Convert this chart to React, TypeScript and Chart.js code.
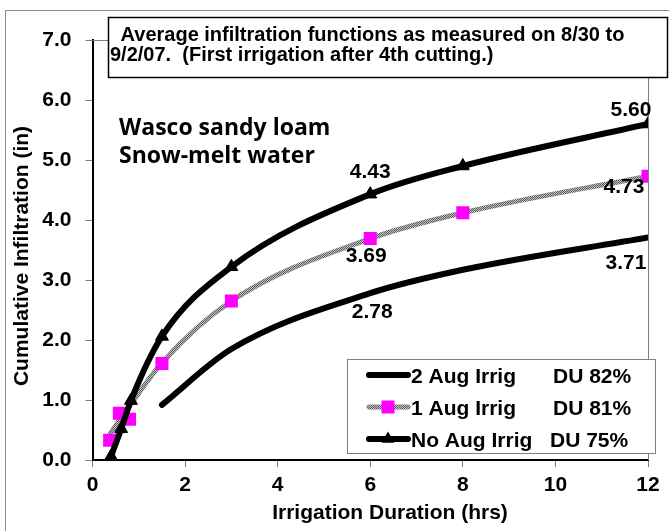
import React, { useEffect, useRef } from 'react';
import { Chart, registerables } from 'chart.js';
Chart.register(...registerables);

// ---- data ----
const xNoAug = [0.4, 0.62, 0.83, 1.5, 3, 6, 8, 12];
const yNoAug = [0.06, 0.52, 0.99, 2.06, 3.22, 4.43, 4.9, 5.6];
const x1AugPoints = [0.37, 0.58, 0.8, 1.5, 3, 6, 8, 12];
const y1AugPoints = [0.33, 0.78, 0.68, 1.61, 2.65, 3.69, 4.12, 4.73];
const x1AugLine = [0.37, 0.58, 0.8, 1.5, 3, 6, 8, 12];
const y1AugLine = [0.42, 0.66, 0.9, 1.62, 2.65, 3.69, 4.12, 4.73];
const x2Aug = [1.5, 3, 6, 8, 12];
const y2Aug = [0.92, 1.85, 2.78, 3.17, 3.71];
const xTickValues = [0, 2, 4, 6, 8, 10, 12];
const yTickValues = [0, 1, 2, 3, 4, 5, 6, 7];
const legendNames = ['2 Aug Irrig', '1 Aug Irrig', 'No Aug Irrig'];
const legendDU = ['DU 82%', 'DU 81%', 'DU 75%'];
const titleLines = [' Average infiltration functions as measured on 8/30 to', '9/2/07.  (First irrigation after 4th cutting.)'];
const noteLines = ['Wasco sandy loam', 'Snow-melt water'];
const xTitle = 'Irrigation Duration (hrs)';
const yTitle = 'Cumulative Infiltration (in)';

const FAM = "'Liberation Sans', Arial, sans-serif";

function pts(xs: number[], ys: number[]) {
  return xs.map((x, i) => ({ x, y: ys[i] }));
}

export default function App() {
  const ref = useRef<HTMLCanvasElement | null>(null);
  useEffect(() => {
    const canvas = ref.current!;
    const pc = document.createElement('canvas');
    pc.width = 2; pc.height = 2;
    const pctx = pc.getContext('2d')!;
    pctx.fillStyle = '#c4c4c4'; pctx.fillRect(0, 0, 2, 2);
    pctx.fillStyle = '#5a5a5a'; pctx.fillRect(0, 0, 1, 1); pctx.fillRect(1, 1, 1, 1);
    const grayPattern = canvas.getContext('2d')!.createPattern(pc, 'repeat')!;

    const overlay = {
      id: 'overlay',
      beforeDatasetsDraw(chart: any) {
        const { ctx, chartArea: a } = chart;
        ctx.save();
        ctx.strokeStyle = '#808080';
        ctx.lineWidth = 1;
        ctx.beginPath();
        ctx.moveTo(a.left, Math.round(a.top) + 0.5);
        ctx.lineTo(Math.round(a.right) + 0.5, Math.round(a.top) + 0.5);
        ctx.lineTo(Math.round(a.right) + 0.5, a.bottom);
        ctx.stroke();
        ctx.restore();
      },
      afterDraw(chart: any) {
        const { ctx } = chart;
        ctx.save();
        // value labels
        ctx.fillStyle = '#000';
        ctx.font = `bold 21px ${FAM}`;
        ctx.textAlign = 'center';
        ctx.textBaseline = 'middle';
        const lab = (ds: number, idx: number, val: number, dx: number, dy: number) => {
          const el = chart.getDatasetMeta(ds).data[idx];
          ctx.fillText(val.toFixed(2), el.x + dx, el.y + dy);
        };
        lab(0, 7, yNoAug[7], -17, -14);
        lab(0, 5, yNoAug[5], 0, -22);
        lab(1, 7, y1AugPoints[7], -24, 11);
        lab(1, 5, y1AugPoints[5], -4, 18);
        lab(3, 4, y2Aug[4], -22, 26);
        lab(3, 2, y2Aug[2], 2, 19);

        // note text
        ctx.textAlign = 'left';
        ctx.textBaseline = 'alphabetic';
        ctx.font = `bold 23px 'Open Sans', sans-serif`;
        ctx.fillText(noteLines[0], 119, 134.5);
        ctx.fillText(noteLines[1], 119, 162.5);

        // axis titles
        ctx.font = `bold 21px ${FAM}`;
        ctx.textAlign = 'center';
        ctx.fillText(xTitle, 390, 519);
        ctx.save();
        ctx.translate(28, 256);
        ctx.rotate(-Math.PI / 2);
        ctx.fillText(yTitle, 0, 0);
        ctx.restore();

        // title box
        ctx.fillStyle = '#fff';
        ctx.fillRect(108.5, 17.5, 559, 60);
        ctx.strokeStyle = '#000';
        ctx.lineWidth = 1.5;
        ctx.strokeRect(108.5, 17.5, 559, 60);
        ctx.fillStyle = '#000';
        ctx.font = `bold 20px ${FAM}`;
        ctx.textAlign = 'left';
        ctx.fillText(titleLines[0], 115, 41);
        ctx.fillText(titleLines[1], 110, 61);

        // legend box
        ctx.fillStyle = '#fff';
        ctx.fillRect(347.5, 359.5, 308, 94);
        ctx.strokeStyle = '#808080';
        ctx.lineWidth = 1;
        ctx.strokeRect(347.5, 359.5, 308, 94);
        const rows = [375, 407, 439];
        const order = [3, 2, 0];
        rows.forEach((ry, i) => {
          const ds = chart.data.datasets[order[i]];
          ctx.save();
          ctx.strokeStyle = ds.borderColor;
          ctx.lineWidth = ds.borderWidth;
          ctx.lineCap = 'round';
          ctx.beginPath();
          ctx.moveTo(369, ry);
          ctx.lineTo(408, ry);
          ctx.stroke();
          ctx.restore();
          if (i === 1) {
            const m = chart.data.datasets[1];
            ctx.fillStyle = m.pointBackgroundColor;
            ctx.fillRect(388 - 6.5, ry - 6.5, 13, 13);
          }
          if (i === 2) {
            ctx.fillStyle = '#000';
            ctx.beginPath();
            ctx.moveTo(388, ry - 7.5);
            ctx.lineTo(388 + 6.5, ry + 3.75);
            ctx.lineTo(388 - 6.5, ry + 3.75);
            ctx.closePath();
            ctx.fill();
          }
          ctx.fillStyle = '#000';
          ctx.font = `bold 21px ${FAM}`;
          ctx.textAlign = 'left';
          ctx.textBaseline = 'alphabetic';
          ctx.fillText(legendNames[i], 411, ry + 7.5);
          ctx.fillText(legendDU[i], i === 2 ? 550 : 553, ry + 7.5);
        });

        // outer frame
        ctx.strokeStyle = '#8c8c8c';
        ctx.lineWidth = 1;
        ctx.strokeRect(5.5, 10.5, 800, 700);
        ctx.restore();
      },
    };

    const tickFont = { family: FAM, size: 21, weight: 'bold' as const };
    const chart = new Chart(canvas, {
      type: 'scatter',
      data: {
        datasets: [
          {
            label: 'No Aug Irrig',
            data: pts(xNoAug, yNoAug),
            showLine: true,
            borderColor: '#000',
            borderWidth: 6,
            cubicInterpolationMode: 'monotone',
            pointStyle: 'triangle',
            pointRadius: 7.5,
            pointBackgroundColor: '#000',
            pointBorderColor: '#000',
            pointBorderWidth: 1,
          },
          {
            label: '1 Aug Irrig points',
            data: pts(x1AugPoints, y1AugPoints),
            showLine: false,
            borderColor: grayPattern,
            borderWidth: 5,
            pointStyle: 'rect',
            pointRadius: 9.2,
            pointBackgroundColor: '#ff00ff',
            pointBorderColor: '#ff00ff',
            pointBorderWidth: 0,
          },
          {
            label: '1 Aug Irrig',
            data: pts(x1AugLine, y1AugLine),
            showLine: true,
            borderColor: grayPattern,
            borderWidth: 5,
            cubicInterpolationMode: 'monotone',
            pointRadius: 0,
          },
          {
            label: '2 Aug Irrig',
            data: pts(x2Aug, y2Aug),
            showLine: true,
            borderColor: '#000',
            borderWidth: 6,
            borderCapStyle: 'round',
            cubicInterpolationMode: 'monotone',
            pointRadius: 0,
          },
        ] as any,
      },
      options: {
        responsive: false,
        animation: false,
        devicePixelRatio: 1,
        layout: { padding: { left: 0, right: 21, top: 40, bottom: 0 } },
        plugins: { legend: { display: false }, tooltip: { enabled: false } },
        scales: {
          x: {
            type: 'linear',
            min: 0,
            max: 12,
            afterBuildTicks: (s: any) => { s.ticks = xTickValues.map((v) => ({ value: v })); },
            ticks: { font: tickFont, color: '#000', padding: 6, maxRotation: 0, autoSkip: false, callback: (v: any) => String(v) },
            grid: { drawOnChartArea: false, drawTicks: true, tickLength: 7, tickColor: '#808080' },
            border: { color: '#000', width: 2 },
            afterFit: (s: any) => { s.height = 71; },
          },
          y: {
            type: 'linear',
            min: 0,
            max: 7,
            afterBuildTicks: (s: any) => { s.ticks = yTickValues.map((v) => ({ value: v })); },
            ticks: { font: tickFont, color: '#000', padding: 14, autoSkip: false, callback: (v: any) => Number(v).toFixed(1) },
            grid: { drawOnChartArea: false, drawTicks: true, tickLength: 7, tickColor: '#808080' },
            border: { color: '#000', width: 2 },
            afterFit: (s: any) => { s.width = 92.5; },
          },
        },
      } as any,
      plugins: [overlay],
    });
    return () => chart.destroy();
  }, []);

  return (
    <div style={{ position: 'absolute', left: 0, top: 0, width: 669, height: 531, background: '#fff' }}>
      <canvas ref={ref} width={669} height={531} style={{ display: 'block' }} />
    </div>
  );
}
